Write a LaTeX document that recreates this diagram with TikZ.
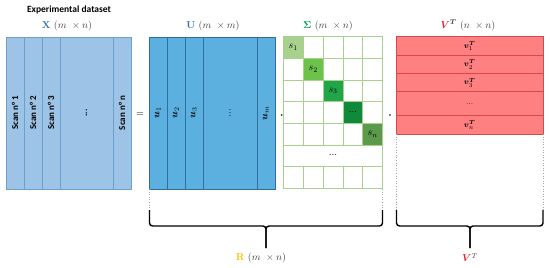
\documentclass[tikz,border=0pt]{standalone}
\usepackage[no-math]{fontspec}
\usepackage{amsmath,bm}
\newfontfamily\carl{Carlito}
\definecolor{xfill}{HTML}{9DC3E6}
\definecolor{xline}{HTML}{6C9FC9}
\definecolor{ufill}{HTML}{5BB0DF}
\definecolor{uline}{HTML}{2F6E9E}
\definecolor{gline}{HTML}{A9D18E}
\definecolor{gA}{HTML}{A9D18E}
\definecolor{gB}{HTML}{6CC24A}
\definecolor{gC}{HTML}{21A548}
\definecolor{gD}{HTML}{0E8A3A}
\definecolor{gE}{HTML}{5A9A4A}
\definecolor{vfill}{HTML}{FF8080}
\definecolor{vline}{HTML}{D94848}
\definecolor{labblue}{HTML}{2E75B6}
\definecolor{labgreen}{HTML}{00A050}
\definecolor{labred}{HTML}{E0202A}
\definecolor{labgold}{HTML}{FFC000}
\definecolor{txt}{HTML}{404040}
\tikzset{
  xcol/.style={draw=xline,fill=xfill,line width=0.6pt},
  ucol/.style={draw=uline,fill=ufill,line width=0.6pt},
  vrow/.style={draw=vline,fill=vfill,line width=0.6pt},
  gcell/.style={draw=gline,line width=0.8pt},
  scantxt/.style={rotate=90,font=\carl\bfseries\fontsize{9}{10}\selectfont,inner sep=0pt},
  utxt/.style={rotate=90,font=\fontsize{10}{11}\selectfont,inner sep=0pt},
  vtxt/.style={font=\fontsize{8.5}{9}\selectfont,inner sep=0pt},
  stxt/.style={font=\fontsize{10}{11}\selectfont,inner sep=0pt},
  head/.style={font=\fontsize{10}{12}\selectfont,inner sep=0pt,text=txt},
  guide/.style={gray!70,dotted,line width=0.6pt},
  bracefig/.style={black,line width=1.4pt,rounded corners=3pt},
  dotsym/.style={circle,fill=black,inner sep=0pt,minimum size=1.8pt}
}
\begin{document}
\begin{tikzpicture}[x=1pt,y=-1pt]
\useasboundingbox (0,0) rectangle (550,268);
% ---------- X ----------
\foreach \a/\b in {6/24,24/42,42/60,60/113,113/131}{
  \draw[xcol] (\a,37) rectangle (\b,189);
}
\node[scantxt] (sc1) at (15,113) {Scan n° 1};
\node[scantxt] (sc2) at (33,113) {Scan n° 2};
\node[scantxt] (sc3) at (51,113) {Scan n° 3};
\node[scantxt] (scd) at (86.5,113) {...};
\node[scantxt] (scn) at (122,113) {Scan n° n};
\node[font=\carl\bfseries\fontsize{9.5}{11}\selectfont,inner sep=0pt] (expt) at (69,10) {Experimental dataset};
\node[head] (xlab) at (67,25.5) {\textcolor{labblue}{$\mathbf{X}$} $(m\ \times n)$};
\node[font=\fontsize{10}{11}\selectfont,inner sep=0pt] (eq) at (140,115) {$=$};
% ---------- U ----------
\foreach \a/\b in {149/167,167/185,185/203,203/257,257/275}{
  \draw[ucol] (\a,37) rectangle (\b,189);
}
\node[utxt] (u1) at (158,113) {$\bm{u}_1$};
\node[utxt] (u2) at (176,113) {$\bm{u}_2$};
\node[utxt] (u3) at (194,113) {$\bm{u}_3$};
\node[utxt] (ud) at (230,113) {...};
\node[utxt] (um) at (266,113) {$\bm{u}_m$};
\node[head] (ulab) at (213,25.5) {\textcolor{labblue}{$\mathbf{U}$} $(m\ \times m)$};
\node[dotsym] (dot1) at (281.7,115) {};
% ---------- Sigma ----------
\fill[gA] (283.3,36.7) rectangle (303.3,58.3);
\fill[gB] (303.3,58.3) rectangle (323.3,80);
\fill[gC] (323.3,80) rectangle (343.1,101.7);
\fill[gD] (343.1,101.7) rectangle (362.9,123.3);
\fill[gE] (362.9,123.3) rectangle (382.7,145);
\foreach \r in {0,1,2,3,4,6}{
  \foreach \c in {0,1,2,3,4}{
    \draw[gcell] ({283.3+19.88*\c},{36.7+21.67*\r}) rectangle ++(19.88,21.67);
  }
}
\draw[gcell] (283.3,166.7) rectangle (382.7,145);
\node[stxt] (s1) at (293.2,47.5) {$s_1$};
\node[stxt] (s2) at (313.2,69.2) {$s_2$};
\node[stxt] (s3) at (333.1,90.8) {$s_3$};
\node[stxt] (sd) at (353,111.5) {...};
\node[stxt] (sn) at (372.8,134.2) {$s_n$};
\node[stxt] (sdd) at (333,154.5) {...};
\node[head] (slab) at (328,25.5) {\textcolor{labgreen}{$\bm{\Sigma}$} $(m\ \times n)$};
\node[dotsym] (dot2) at (390,115) {};
% ---------- V ----------
\draw[vrow] (396,36.7) rectangle (543.3,55);
\draw[vrow] (396,55) rectangle (543.3,73.3);
\draw[vrow] (396,73.3) rectangle (543.3,91.7);
\draw[vrow] (396,91.7) rectangle (543.3,115.7);
\draw[vrow] (396,115.7) rectangle (543.3,134);
\node[vtxt] (v1) at (469.7,46) {$\bm{v}_1^{\bm{T}}$};
\node[vtxt] (v2) at (469.7,64.3) {$\bm{v}_2^{\bm{T}}$};
\node[vtxt] (v3) at (469.7,82.6) {$\bm{v}_3^{\bm{T}}$};
\node[vtxt] (vd) at (469.7,103.7) {...};
\node[vtxt] (vn) at (469.7,125) {$\bm{v}_n^{\bm{T}}$};
\node[head] (vlab) at (468,25.5) {\textcolor{labred}{$\bm{V}$}$^{\bm{T}}$ $(n\ \times n)$};
% ---------- guides and braces ----------
\coordinate (ga1) at (149.5,189);
\coordinate (ga2) at (149.5,210);
\coordinate (gb1) at (382.5,189);
\coordinate (gb2) at (382.5,210);
\coordinate (gc1) at (396.5,134);
\coordinate (gc2) at (396.5,210);
\coordinate (gd1) at (543,134);
\coordinate (gd2) at (543,210);
\draw[guide] (ga1) -- (ga2);
\draw[guide] (gb1) -- (gb2);
\draw[guide] (gc1) -- (gc2);
\draw[guide] (gd1) -- (gd2);
\coordinate (rtip) at (266,248);
\coordinate (vtip) at (470,248);
\draw[bracefig] (ga2) -- (149.5,226) -- (266,226) -- (rtip);
\draw[bracefig] (gb2) -- (382.5,226) -- (266,226) -- (rtip);
\draw[bracefig] (gc2) -- (396.5,226) -- (470,226) -- (vtip);
\draw[bracefig] (gd2) -- (543,226) -- (470,226) -- (vtip);
\node[head] (rlab) at (261,257.5) {\textcolor{labgold}{$\mathbf{R}$} $(m\ \times n)$};
\node[head] (vtlab) at (470,257.5) {\textcolor{labred}{$\bm{V}$}$^{T}$};
\end{tikzpicture}
\end{document}
